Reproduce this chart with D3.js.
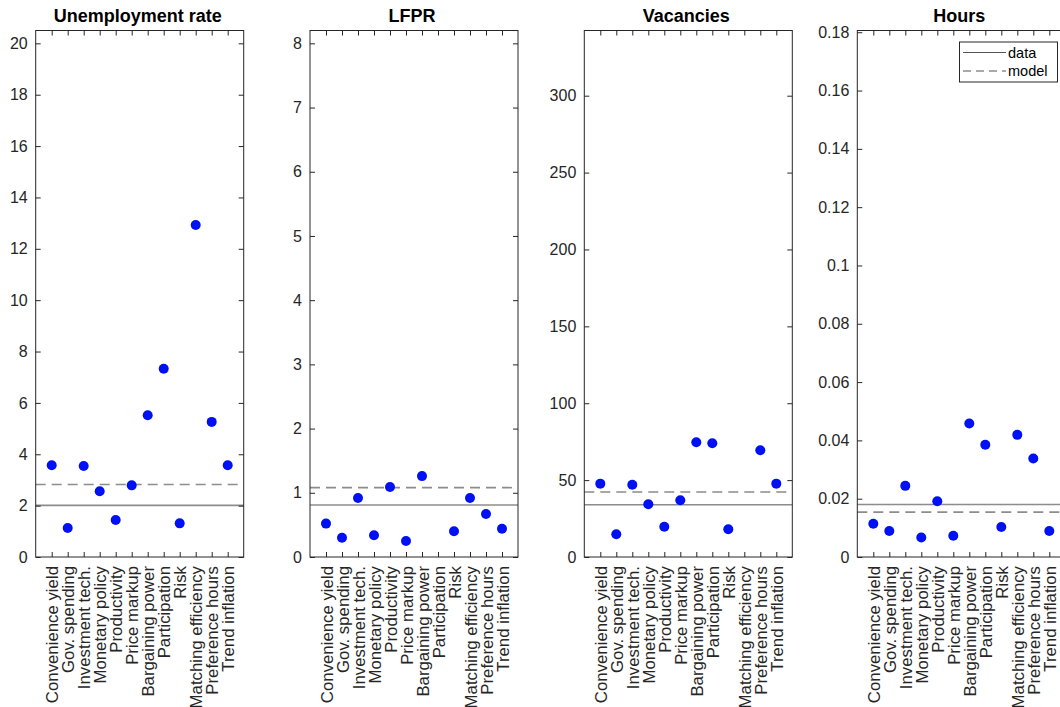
<!DOCTYPE html>
<html>
<head>
<meta charset="utf-8">
<script src="https://cdn.jsdelivr.net/npm/d3@7"></script>
<style>
  body { margin: 0; background: #fff; }
  svg { font-family: "Liberation Sans", Arial, Helvetica, sans-serif; }
  .tick text { fill: #262626; font-size: 16px; }
  .cat .tick text { font-size: 16.8px; }
  .tick line { stroke: #262626; }
</style>
</head>
<body>
<svg id="chart" width="1060" height="707"></svg>
<script>
var categories = ["Convenience yield", "Gov. spending", "Investment tech.", "Monetary policy",
  "Productivity", "Price markup", "Bargaining power", "Participation", "Risk",
  "Matching efficiency", "Preference hours", "Trend inflation"];

var titles = ["Unemployment rate", "LFPR", "Vacancies", "Hours"];

// model dots per shock (null = not shown)
var unempValues = [3.57, 1.13, 3.54, 2.56, 1.44, 2.79, 5.52, 7.33, 1.31, 12.93, 5.26, 3.57];
var lfprValues = [0.52, 0.30, 0.92, 0.34, 1.09, 0.25, 1.26, null, 0.40, 0.92, 0.67, 0.44];
var vacValues = [47.7, 14.8, 47.0, 34.3, 19.7, 36.9, 74.6, 74.0, 18.0, null, 69.4, 47.7];
var hoursValues = [0.0114, 0.0089, 0.0244, 0.0067, 0.0191, 0.0073, 0.0458, 0.0385, 0.0103, 0.0419, 0.0338, 0.0089];

var dataLevels = [2.01, 0.81, 34.0, 0.0180];
var modelLevels = [2.82, 1.08, 42.3, 0.0154];

var yMax = [20.5, 8.2, 342.4, 0.1806];
var yTicks = [
  [0, 2, 4, 6, 8, 10, 12, 14, 16, 18, 20],
  [0, 1, 2, 3, 4, 5, 6, 7, 8],
  [0, 50, 100, 150, 200, 250, 300],
  [0, 0.02, 0.04, 0.06, 0.08, 0.1, 0.12, 0.14, 0.16, 0.18]
];

var legendLabels = ["data", "model"];

var panelValues = [unempValues, lfprValues, vacValues, hoursValues];
var panelLeft = [35.7, 310, 584.3, 857.3];
var panelWidth = 208;
var plotTop = 30.5, plotBottom = 557;
var axisColor = "#262626";
var lineColor = "#8c8c8c";
var dotColor = "#0010f5";

var svg = d3.select("#chart");

panelValues.forEach(function(vals, p) {
  var left = panelLeft[p];
  var x = d3.scaleLinear().domain([0, categories.length + 1]).range([left, left + panelWidth]);
  var y = d3.scaleLinear().domain([0, yMax[p]]).range([plotBottom, plotTop]);
  var g = svg.append("g");

  var fmt = function(d) { return d === 0 ? "0" : String(+d.toFixed(2)); };

  // data / model reference lines
  g.append("line")
    .attr("x1", x(0)).attr("x2", x(categories.length + 1))
    .attr("y1", y(dataLevels[p])).attr("y2", y(dataLevels[p]))
    .attr("stroke", lineColor).attr("stroke-width", 1.6);
  g.append("line")
    .attr("x1", x(0)).attr("x2", x(categories.length + 1))
    .attr("y1", y(modelLevels[p])).attr("y2", y(modelLevels[p]))
    .attr("stroke", lineColor).attr("stroke-width", 1.6)
    .attr("stroke-dasharray", "10,6");

  // dots
  g.selectAll(".dot")
    .data(vals.map(function(v, i) { return {i: i + 1, v: v}; }).filter(function(d) { return d.v !== null; }))
    .enter()
    .append("circle")
    .attr("class", "dot")
    .attr("cx", function(d) { return x(d.i); })
    .attr("cy", function(d) { return y(d.v); })
    .attr("r", 5)
    .attr("fill", dotColor);

  var catTicks = d3.range(1, categories.length + 1);

  // left axis
  g.append("g")
    .attr("transform", "translate(" + left + ",0)")
    .call(d3.axisLeft(y).tickValues(yTicks[p]).tickFormat(fmt).tickSizeInner(-5).tickSizeOuter(0).tickPadding(8))
    .call(function(a) { a.select(".domain").remove(); });

  // right axis (ticks only)
  g.append("g")
    .attr("transform", "translate(" + (left + panelWidth) + ",0)")
    .call(d3.axisRight(y).tickValues(yTicks[p]).tickFormat("").tickSizeInner(-5).tickSizeOuter(0))
    .call(function(a) { a.select(".domain").remove(); });

  // top axis (ticks only)
  g.append("g")
    .attr("transform", "translate(0," + plotTop + ")")
    .call(d3.axisTop(x).tickValues(catTicks).tickFormat("").tickSizeInner(-5).tickSizeOuter(0))
    .call(function(a) { a.select(".domain").remove(); });

  // bottom axis with rotated category labels
  g.append("g")
    .attr("class", "cat")
    .attr("transform", "translate(0," + plotBottom + ")")
    .call(d3.axisBottom(x).tickValues(catTicks).tickFormat(function(d) { return categories[d - 1]; })
      .tickSizeInner(-5).tickSizeOuter(0))
    .call(function(a) { a.select(".domain").remove(); })
    .selectAll("text")
    .attr("transform", "rotate(-90)")
    .attr("x", -9)
    .attr("y", 0)
    .attr("dy", "0.36em")
    .style("text-anchor", "end");

  // box
  g.append("rect")
    .attr("x", left).attr("y", plotTop)
    .attr("width", panelWidth).attr("height", plotBottom - plotTop)
    .attr("fill", "none").attr("stroke", axisColor).attr("stroke-width", 1);

  // title
  g.append("text")
    .attr("x", left + panelWidth / 2 - 2)
    .attr("y", 21.5)
    .attr("text-anchor", "middle")
    .style("font-size", "18px")
    .style("font-weight", "bold")
    .attr("fill", "#000")
    .text(titles[p]);
});

// legend in the Hours panel
var leg = svg.append("g");
leg.append("rect")
  .attr("x", 959.5).attr("y", 42)
  .attr("width", 98).attr("height", 40)
  .attr("fill", "#fff").attr("stroke", axisColor).attr("stroke-width", 1);
legendLabels.forEach(function(name, i) {
  var ly = 52.5 + i * 18.5;
  leg.append("line")
    .attr("x1", 963).attr("x2", 1006)
    .attr("y1", ly).attr("y2", ly)
    .attr("stroke", "#555").attr("stroke-width", 1)
    .attr("stroke-dasharray", i === 1 ? "8,5" : null);
  leg.append("text")
    .attr("x", 1008).attr("y", ly + 5)
    .style("font-size", "14.5px")
    .attr("fill", "#000")
    .text(name);
});
</script>
</body>
</html>
